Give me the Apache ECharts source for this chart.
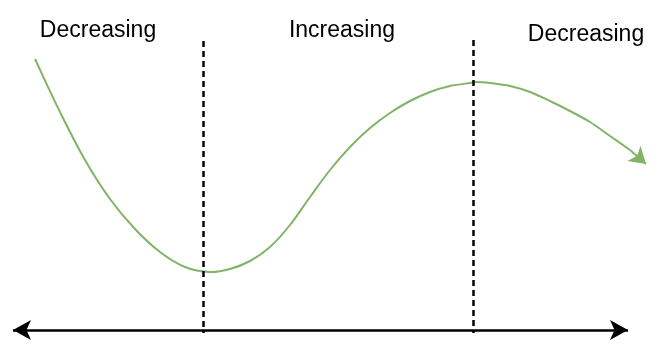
<!DOCTYPE html>
<html>
<head>
<meta charset="utf-8">
<script src="https://cdn.jsdelivr.net/npm/echarts@6/dist/echarts.min.js"></script>
<style>html,body{margin:0;padding:0;background:#fff}#c{width:664px;height:348px}</style>
</head>
<body>
<div id="c"></div>
<script>
// Curve samples (x, y) in the chart's own units (y measured downward)
var curveX = [35,60,85,110,135,160,185,210,230,250,270,290,310,330,350,370,390,410,430,450,470,477,490,510,530,550,570,590,610,630];
var curveY = [59,112,160,199,229,252,267,272,269,261,247,225,197,170,147,128,113,101,92,86,83,82,83,86,92,101,111,122,136,150];
// Arrowhead segment at the end of the curve
var arrowFrom = [630,150];
var arrowTo = [646,164];
// Region boundaries (dashed lines)
var boundaryX = [203,473];
var boundaryTop = [41,40];
var boundaryBottom = 333;
// Horizontal double arrow
var axisLineY = 330;
var axisLineX = [13,628];
// Region labels
var labelNames = ['Decreasing','Increasing','Decreasing'];
var labelX = [98,342,586];
var labelY = [31,31,35];

var green = '#82b366';
var curveData = curveX.map(function(x,i){return [x,curveY[i]];});
var labelData = labelNames.map(function(n,i){return [labelX[i],labelY[i],n];});

var markData = [];
boundaryX.forEach(function(x,i){
  markData.push([{coord:[x,boundaryTop[i]],symbol:'none'},{coord:[x,boundaryBottom],symbol:'none'}]);
});

// Smooth curve through the samples (Catmull-Rom -> cubic Bezier), positions via api.coord
function renderCurve(params, api){
  if (params.dataIndex !== 0) return;
  var p = curveData.map(function(d){return api.coord(d);});
  var n = p.length;
  var d = 'M' + p[0][0] + ' ' + p[0][1];
  for (var i = 0; i < n - 1; i++){
    var p0 = p[i > 0 ? i - 1 : i], p1 = p[i], p2 = p[i + 1], p3 = p[i + 2 < n ? i + 2 : i + 1];
    var c1x = p1[0] + (p2[0] - p0[0]) / 6, c1y = p1[1] + (p2[1] - p0[1]) / 6;
    var c2x = p2[0] - (p3[0] - p1[0]) / 6, c2y = p2[1] - (p3[1] - p1[1]) / 6;
    d += ' C' + c1x + ' ' + c1y + ' ' + c2x + ' ' + c2y + ' ' + p2[0] + ' ' + p2[1];
  }
  return {
    type:'path',
    shape:{pathData:d},
    style:{stroke:green, fill:'none', lineWidth:2}
  };
}

function renderLabel(params, api){
  var pt = api.coord([api.value(0), api.value(1)]);
  return {
    type:'text',
    x:pt[0], y:pt[1],
    style:{
      text:labelNames[params.dataIndex],
      fill:'#000',
      fontSize:23,
      fontFamily:'Liberation Sans, Arial, sans-serif',
      align:'center',
      verticalAlign:'middle'
    }
  };
}

var chart = echarts.init(document.getElementById('c'));
chart.setOption({
  animation:false,
  grid:{left:0,right:0,top:0,bottom:0},
  xAxis:{type:'value',min:0,max:664,show:false},
  yAxis:{type:'value',min:0,max:348,inverse:true,show:false},
  series:[
    {
      type:'custom',
      data:curveData,
      renderItem:renderCurve,
      silent:true,
      clip:false,
      markLine:{
        silent:true,
        symbol:['none','arrow'],
        symbolSize:[15,16],
        label:{show:false},
        lineStyle:{color:green,width:2,type:'solid'},
        itemStyle:{color:green},
        data:[[{coord:arrowFrom},{coord:arrowTo}]]
      }
    },
    {
      type:'line',
      data:[],
      markLine:{
        silent:true,
        symbol:['none','none'],
        label:{show:false},
        lineStyle:{color:'#000',width:2.5,type:[6,4]},
        data:markData
      }
    },
    {
      type:'line',
      data:[],
      markLine:{
        silent:true,
        symbol:['arrow','arrow'],
        symbolSize:[15,18],
        label:{show:false},
        lineStyle:{color:'#000',width:2.5,type:'solid'},
        itemStyle:{color:'#000'},
        data:[[{coord:[axisLineX[0],axisLineY]},{coord:[axisLineX[1],axisLineY]}]]
      }
    },
    {
      type:'custom',
      data:labelData,
      renderItem:renderLabel,
      silent:true,
      clip:false
    }
  ]
});
</script>
</body>
</html>
